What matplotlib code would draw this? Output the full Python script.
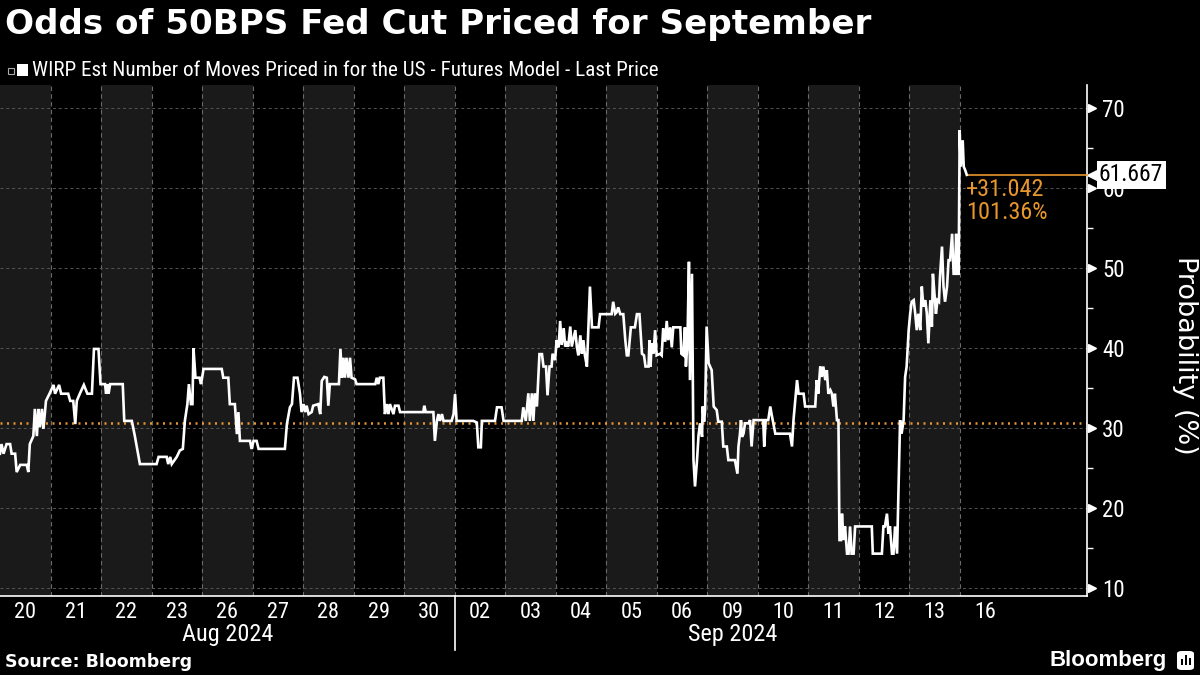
import matplotlib

matplotlib.use("Agg")
import matplotlib.pyplot as plt
import matplotlib.transforms as mtransforms
from matplotlib.patches import FancyBboxPatch, Rectangle
import numpy as np

# Trading-day offset from the 20 Aug open (1.0 = one session) and priced odds (%)
t_days = [
    0.00, 0.03, 0.07, 0.13, 0.20, 0.23, 0.30, 0.33, 0.40, 0.53, 0.56, 0.59, 0.66, 0.69,
    0.73, 0.76, 0.79, 0.83, 0.86, 0.91, 0.98, 1.06, 1.09, 1.17, 1.21, 1.35, 1.39, 1.45,
    1.49, 1.52, 1.58, 1.66, 1.73, 1.82, 1.86, 1.95, 1.99, 2.08, 2.10, 2.13, 2.15, 2.18,
    2.43, 2.46, 2.61, 2.67, 2.77, 3.10, 3.14, 3.30, 3.33, 3.37, 3.40, 3.50, 3.56, 3.62,
    3.66, 3.71, 3.74, 3.78, 3.81, 3.83, 3.87, 3.95, 3.98, 4.03, 4.39, 4.42, 4.52, 4.55,
    4.65, 4.69, 4.72, 4.75, 4.85, 4.95, 4.98, 5.02, 5.08, 5.12, 5.64, 5.68, 5.74, 5.78,
    5.82, 5.89, 5.94, 5.97, 6.01, 6.04, 6.07, 6.11, 6.17, 6.20, 6.30, 6.34, 6.37, 6.42,
    6.47, 6.50, 6.53, 6.71, 6.74, 6.77, 6.80, 6.83, 6.86, 6.90, 6.93, 6.96, 7.03, 7.06,
    7.43, 7.46, 7.49, 7.52, 7.59, 7.62, 7.66, 7.69, 7.72, 7.79, 7.82, 7.89, 7.92, 8.38,
    8.40, 8.43, 8.58, 8.61, 8.65, 8.68, 8.71, 8.75, 8.78, 8.94, 8.98, 9.01, 9.04, 9.37,
    9.44, 9.47, 9.52, 9.54, 9.80, 9.84, 9.93, 9.97, 10.33, 10.36, 10.41, 10.46, 10.49,
    10.53, 10.56, 10.59, 10.63, 10.68, 10.73, 10.76, 10.81, 10.84, 10.88, 10.92, 10.94,
    10.99, 11.02, 11.06, 11.09, 11.12, 11.16, 11.19, 11.22, 11.25, 11.29, 11.32, 11.39,
    11.42, 11.45, 11.49, 11.52, 11.55, 11.58, 11.62, 11.64, 11.68, 11.72, 11.85, 11.88,
    12.11, 12.14, 12.18, 12.21, 12.24, 12.28, 12.34, 12.38, 12.41, 12.44, 12.49, 12.57,
    12.61, 12.66, 12.71, 12.75, 12.78, 12.84, 12.86, 12.88, 12.90, 12.94, 12.97, 13.00,
    13.07, 13.10, 13.13, 13.17, 13.20, 13.23, 13.27, 13.30, 13.33, 13.47, 13.49, 13.53,
    13.56, 13.58, 13.61, 13.64, 13.66, 13.70, 13.73, 13.76, 13.80, 13.83, 13.86, 13.90,
    13.91, 13.94, 13.96, 13.99, 14.03, 14.09, 14.13, 14.19, 14.22, 14.29, 14.32, 14.39,
    14.42, 14.55, 14.60, 14.62, 14.65, 14.67, 14.69, 14.72, 14.75, 14.82, 14.85, 14.88,
    14.92, 15.11, 15.13, 15.16, 15.21, 15.25, 15.28, 15.35, 15.64, 15.68, 15.71, 15.78,
    15.81, 15.91, 15.94, 16.14, 16.17, 16.20, 16.24, 16.27, 16.30, 16.34, 16.37, 16.40,
    16.44, 16.47, 16.50, 16.53, 16.57, 16.60, 16.62, 16.65, 16.67, 16.70, 16.73, 16.77,
    16.80, 16.83, 16.86, 16.90, 16.93, 17.26, 17.28, 17.46, 17.49, 17.52, 17.56, 17.59,
    17.62, 17.66, 17.69, 17.72, 17.76, 17.82, 17.85, 17.89, 17.92, 17.95, 17.99, 18.02,
    18.05, 18.09, 18.12, 18.15, 18.18, 18.22, 18.25, 18.28, 18.32, 18.35, 18.38, 18.42,
    18.45, 18.47, 18.49, 18.53, 18.56, 18.59, 18.61, 18.65, 18.68, 18.71, 18.75, 18.78,
    18.81, 18.85, 18.88, 18.91, 18.93, 18.96, 18.98, 19.00, 19.02, 19.06, 19.08, 19.11,
    19.14,
]
prob = [
    26.8, 28.0, 26.8, 28.0, 28.0, 26.8, 26.8, 24.5, 25.4, 25.4, 24.5, 28.0, 29.0, 32.4,
    29.0, 32.4, 30.1, 32.4, 29.9, 33.4, 34.3, 35.4, 34.3, 35.4, 34.3, 34.3, 33.4, 33.4,
    30.5, 33.4, 34.3, 35.4, 34.3, 34.3, 39.9, 39.9, 35.5, 35.5, 34.3, 35.5, 34.3, 35.5,
    35.5, 30.9, 30.9, 29.0, 25.5, 25.5, 26.4, 26.4, 25.5, 26.4, 25.5, 26.4, 27.2, 27.4,
    30.9, 33.0, 35.5, 33.0, 33.0, 40.0, 36.3, 36.3, 35.5, 37.4, 37.4, 36.3, 36.3, 33.0,
    33.0, 29.25, 32.0, 28.4, 28.4, 28.4, 27.4, 28.4, 28.4, 27.4, 27.4, 30.5, 32.6, 33.0,
    36.3, 36.3, 34.25, 32.0, 33.0, 32.0, 32.8, 31.75, 32.0, 32.8, 33.0, 31.75, 35.9, 36.4,
    36.3, 32.8, 35.5, 35.5, 39.9, 36.3, 38.8, 36.3, 38.8, 36.3, 38.8, 36.3, 36.1, 35.5,
    35.5, 36.3, 35.5, 36.3, 36.3, 31.75, 33.0, 31.75, 33.0, 31.75, 32.8, 32.8, 32.0, 32.0,
    32.8, 32.0, 32.0, 28.4, 30.9, 31.75, 30.9, 31.75, 30.9, 30.9, 31.75, 34.25, 30.9, 30.9,
    30.7, 27.6, 27.6, 30.9, 30.9, 32.6, 32.6, 30.9, 30.9, 32.6, 30.9, 34.35, 30.9,
    34.35, 30.9, 34.35, 32.7, 39.25, 39.25, 37.7, 37.7, 34.1, 37.7, 37.7, 39.3,
    38.5, 41.0, 40.1, 43.4, 40.4, 42.5, 40.2, 40.6, 40.2, 42.7, 40.2, 42.25,
    40.2, 39.1, 41.6, 39.3, 41.0, 39.1, 37.7, 41.0, 47.7, 42.6, 42.6, 44.25,
    44.25, 45.8, 44.3, 44.5, 45.1, 44.25, 44.25, 41.0, 39.1, 39.1, 42.6, 42.6,
    44.25, 44.25, 39.3, 39.1, 37.7, 37.7, 41.0, 37.7, 40.6, 39.3, 42.25, 39.1,
    39.3, 39.1, 42.5, 40.8, 43.4, 41.0, 42.6, 40.1, 42.6, 42.6, 39.3, 39.1,
    42.6, 37.7, 40.6, 50.8, 36.0, 49.3, 26.0, 22.7, 26.0, 29.1, 30.6, 28.9,
    32.7, 30.8, 32.25, 42.7, 38.1, 37.25, 32.7, 32.25, 30.8, 30.8, 27.7, 27.7,
    26.0, 26.0, 24.3, 27.7, 29.3, 31.0, 28.9, 29.3, 30.6, 30.6, 31.0, 27.7,
    31.0, 31.0, 27.7, 31.0, 31.0, 32.7, 31.6, 29.3, 29.3, 27.7, 31.0, 36.0,
    34.3, 34.3, 32.7, 32.7, 36.0, 34.3, 37.7, 36.4, 37.7, 36.0, 37.25, 34.3,
    34.75, 34.3, 32.7, 34.3, 31.0, 31.0, 16.0, 16.0, 19.3, 16.0, 17.7, 14.3,
    14.3, 17.7, 14.3, 14.3, 17.7, 17.7, 14.3, 14.3, 17.7, 17.7, 19.3, 16.8,
    17.7, 14.3, 14.3, 17.7, 14.3, 31.0, 29.3, 31.0, 36.4, 37.7, 42.25, 44.3,
    45.8, 46.0, 44.3, 42.25, 44.3, 42.25, 47.7, 45.2, 46.0, 44.3, 40.6, 46.0,
    42.7, 49.3, 47.7, 44.3, 46.0, 45.8, 48.9, 52.7, 47.7, 45.8, 47.7, 51.0,
    51.0, 54.3, 49.3, 49.3, 54.3, 49.3, 49.3, 67.25, 62.7, 66.0, 62.7, 62.25,
    61.667,
]
LAST_PRICE = 61.667
NET_CHANGE = 31.042
PCT_CHANGE = 101.36
START_PRICE = LAST_PRICE - NET_CHANGE

day_labels = ["20", "21", "22", "23", "26", "27", "28", "29", "30",
              "02", "03", "04", "05", "06", "09", "10", "11", "12", "13", "16"]
month_labels = ["Aug 2024", "Sep 2024"]
month_first_day = [0, 9]  # index into day_labels
y_ticks = [10, 20, 30, 40, 50, 60, 70]

TITLE = "Odds of 50BPS Fed Cut Priced for September"
LEGEND = "WIRP Est Number of Moves Priced in for the US - Futures Model - Last Price"

_BG = "#000000"
_BAND = "#1a1a1a"
_GRID = "#6a6a6a"
_ORANGE = "#e8962e"
NARROW = ["Roboto Condensed", "Roboto", "DejaVu Sans"]

fig = plt.figure(figsize=(12, 6.75), dpi=100, facecolor=_BG)
ax = fig.add_axes([0.0, 0.117, 0.9058, 0.757])
ax.set_facecolor(_BG)
ax.set_xlim(0, 21.52)
ax.set_ylim(9.0, 72.9)

n_days = len(day_labels)
# alternating session bands + dashed session dividers (none after the last full day)
for i in range(n_days - 1):
    if i % 2 == 0:
        ax.axvspan(i, i + 1, color=_BAND, lw=0, zorder=0)
    ax.axvline(i + 1, color=_GRID, lw=0.8, ls=(0, (4, 3)), zorder=1)
for v in y_ticks:
    ax.axhline(v, color="#555555", lw=0.7, ls=(0, (3, 3)), zorder=1)

ax.axhline(START_PRICE, color=_ORANGE, lw=1.8, ls=(0, (0.8, 1.8)), zorder=2)
ax.plot(t_days, prob, color="white", lw=1.9, zorder=4, solid_joinstyle="miter")
ax.plot([t_days[-1], 21.52], [LAST_PRICE, LAST_PRICE], color=_ORANGE, lw=1.2, zorder=3,
        clip_on=False)
ax.text(t_days[-1] - 0.02, LAST_PRICE - 0.4,
        f"+{NET_CHANGE:.3f}\n{PCT_CHANGE:.2f}%", color=_ORANGE, fontsize=17.5,
        family=NARROW, va="top", ha="left", linespacing=1.02, zorder=5)

for side in ("left", "top"):
    ax.spines[side].set_visible(False)
for side in ("right", "bottom"):
    ax.spines[side].set_color("white")
    ax.spines[side].set_linewidth(1.2)

# x axis: one tick label per session, month captions underneath
ax.set_xticks(np.arange(n_days) + 0.5, labels=day_labels)
ax.tick_params(axis="x", length=0, pad=4, labelsize=16, labelcolor="white")
for lab in ax.get_xticklabels():
    lab.set_family(NARROW)
xblend = mtransforms.blended_transform_factory(ax.transData, ax.transAxes)
month_edges = month_first_day + [n_days]
for k, name in enumerate(month_labels):
    mid = (month_edges[k] + month_edges[k + 1]) / 2
    ax.text(mid, -0.075, name, transform=xblend, ha="center", va="center",
            color="white", fontsize=17.5, family=NARROW)
for start in month_first_day[1:]:
    ax.plot([start, start], [0, -0.105], transform=xblend, color="white", lw=1.2,
            clip_on=False)

# y axis on the right with small triangle markers
ax.yaxis.tick_right()
ax.set_yticks(y_ticks)
ax.set_yticks(np.array(y_ticks[:-1]) + 5, minor=True)
ax.tick_params(axis="y", which="major", length=0, pad=11, labelsize=16.5,
               labelcolor="white")
ax.tick_params(axis="y", which="minor", length=4, width=1, color="white", direction="out")
for lab in ax.get_yticklabels():
    lab.set_family(NARROW)
yblend = mtransforms.blended_transform_factory(ax.transAxes, ax.transData)
ax.plot([1.0045] * len(y_ticks), y_ticks, transform=yblend, ls="none", marker=">",
        ms=5.5, color="white", clip_on=False)
fig.text(1185 / 1200, 1 - 355 / 675, "Probability (%)", rotation=270, color="white",
         fontsize=19.5, family="DejaVu Sans", ha="center", va="center")

# last-price tag
ax.plot([1.0075], [LAST_PRICE], transform=yblend, marker="<", ms=11, color="white",
        clip_on=False, ls="none")
ax.text(1.011, LAST_PRICE, f"{LAST_PRICE:.3f}", transform=yblend, color="black",
        fontsize=17, family=NARROW, va="center", ha="left", zorder=6,
        bbox=dict(boxstyle="square,pad=0.1", fc="white", ec="none"))

# header / footer
fig.text(0.004, 0.963, TITLE, color="white", fontsize=24.6, fontweight="bold",
         family="DejaVu Sans", va="center", ha="left")
fig.patches.append(Rectangle((8 / 1200, 1 - 74 / 675), 6 / 1200, 6 / 675,
                             transform=fig.transFigure, fc="none", ec="#aaaaaa", lw=0.8))
fig.patches.append(Rectangle((17 / 1200, 1 - 76 / 675), 11 / 1200, 12 / 675,
                             transform=fig.transFigure, fc="white", ec="none"))
fig.text(32 / 1200, 1 - 70 / 675, LEGEND, color="white", fontsize=15.2, family=NARROW,
         va="center", ha="left")
fig.text(0.004, 0.019, "Source: Bloomberg", color="white", fontsize=12.5,
         fontweight="bold", family="DejaVu Sans", va="center", ha="left")
fig.text(1167 / 1200, 0.022, "Bloomberg", color="white", fontsize=16,
         fontweight="bold", family="Liberation Sans", va="center", ha="right")
fig.patches.append(FancyBboxPatch((1177 / 1200, 1 - 670 / 675), 17 / 1200, 19 / 675,
                                  boxstyle="round,pad=0,rounding_size=0.004",
                                  transform=fig.transFigure, fc="white", ec="none"))
for bx, bh in zip([1181, 1185, 1189], [6, 10, 7]):
    fig.patches.append(Rectangle((bx / 1200, 1 - 665 / 675), 2 / 1200, bh / 675,
                                 transform=fig.transFigure, fc="black", ec="none"))

fig.savefig("out.png", dpi=100, facecolor=_BG)
plt.close(fig)
